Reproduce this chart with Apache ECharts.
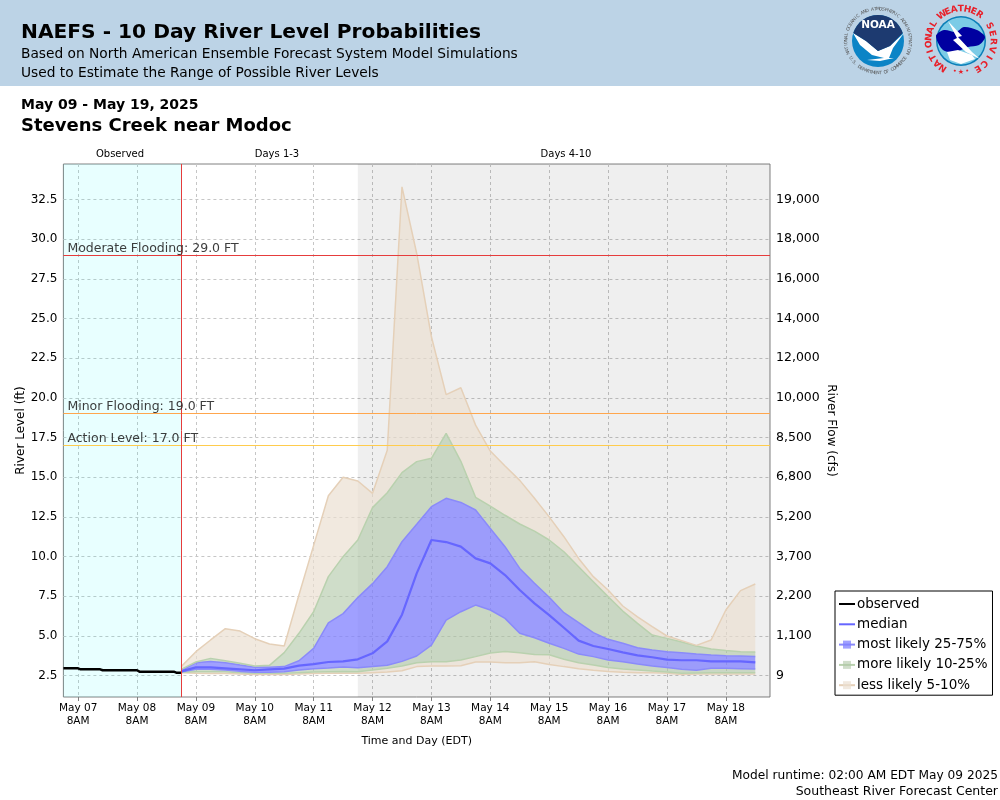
<!DOCTYPE html>
<html>
<head>
<meta charset="utf-8">
<title>NAEFS River Level Probabilities</title>
<script src="https://cdn.jsdelivr.net/npm/echarts@6/dist/echarts.min.js"></script>
<style>
  html, body { margin: 0; padding: 0; background: #fff; }
  #main { width: 1000px; height: 800px; }
</style>
</head>
<body>
<div id="main"></div>
<script>
// hours are counted from May 07 2AM EDT, the left edge of the plot
const xTickHours = [6, 30, 54, 78, 102, 126, 150, 174, 198, 222, 246, 270]
const xTickLabels = ['May 07\n8AM', 'May 08\n8AM', 'May 09\n8AM', 'May 10\n8AM', 'May 11\n8AM', 'May 12\n8AM',
  'May 13\n8AM', 'May 14\n8AM', 'May 15\n8AM', 'May 16\n8AM', 'May 17\n8AM', 'May 18\n8AM']
const levelTicks = [2.5, 5, 7.5, 10, 12.5, 15, 17.5, 20, 22.5, 25, 27.5, 30, 32.5]
const levelLabels = ['2.5', '5.0', '7.5', '10.0', '12.5', '15.0', '17.5', '20.0', '22.5', '25.0', '27.5', '30.0', '32.5']
const flowLabels = ['9', '1,100', '2,200', '3,700', '5,200', '6,800', '8,500', '10,000', '12,000', '14,000', '16,000', '18,000', '19,000']

const obsHours = [0, 6, 7, 15, 16, 30, 31, 45, 46, 48]
const observed = [2.95, 2.95, 2.89, 2.89, 2.83, 2.83, 2.74, 2.74, 2.68, 2.68]

const fcHours = [48, 54, 60, 66, 72, 78, 84, 90, 96, 102, 108, 114, 120, 126, 132, 138, 144, 150, 156, 162,
  168, 174, 180, 186, 192, 198, 204, 210, 216, 222, 228, 234, 240, 246, 252, 258, 264, 270, 276, 282]
const median = [2.76, 3.01, 3.01, 2.95, 2.89, 2.83, 2.89, 2.93, 3.12, 3.22, 3.35, 3.39, 3.52, 3.9, 4.65, 6.33, 8.94, 11.04, 10.91, 10.62,
  9.88, 9.57, 8.83, 7.89, 7.05, 6.31, 5.51, 4.7, 4.36, 4.17, 3.96, 3.77, 3.65, 3.5, 3.46, 3.46, 3.39, 3.39, 3.39, 3.33]
const p95 = [3.06, 4.0, 4.74, 5.45, 5.3, 4.82, 4.49, 4.36, 7.57, 10.7, 13.83, 15.0, 14.76, 13.98, 16.7, 33.3, 29.1, 23.85, 20.2, 20.64,
  18.28, 16.65, 15.7, 14.8, 13.67, 12.5, 11.25, 9.88, 8.73, 7.89, 6.88, 6.2, 5.58, 4.99, 4.7, 4.4, 4.74, 6.63, 7.85, 8.27]
const p90 = [2.89, 3.35, 3.58, 3.43, 3.27, 3.1, 3.14, 3.94, 5.16, 6.52, 8.73, 9.99, 11.04, 13.08, 14.02, 15.29, 15.98, 16.19, 17.76, 16.0,
  13.73, 13.18, 12.6, 12.05, 11.6, 11.04, 10.3, 9.36, 8.41, 7.47, 6.56, 5.79, 5.05, 4.84, 4.61, 4.36, 4.17, 4.07, 4.0, 3.98]
const p75 = [2.8, 3.31, 3.39, 3.31, 3.16, 3.02, 3.02, 3.06, 3.43, 4.21, 5.81, 6.4, 7.41, 8.29, 9.36, 10.93, 12.03, 13.14, 13.67, 13.41,
  12.93, 11.77, 10.62, 9.25, 8.31, 7.43, 6.46, 5.83, 5.2, 4.78, 4.53, 4.25, 4.11, 4.0, 3.94, 3.85, 3.79, 3.75, 3.73, 3.69]
const p25 = [2.72, 2.89, 2.89, 2.85, 2.76, 2.7, 2.7, 2.74, 2.85, 2.93, 2.97, 3.04, 2.99, 3.06, 3.14, 3.39, 3.73, 4.42, 5.99, 6.52,
  6.94, 6.63, 6.1, 5.16, 4.88, 4.53, 4.21, 3.85, 3.69, 3.48, 3.37, 3.22, 3.1, 3.0, 2.9, 2.83, 2.95, 2.95, 2.93, 2.91]
const p10 = [2.7, 2.74, 2.74, 2.74, 2.68, 2.64, 2.64, 2.64, 2.68, 2.72, 2.74, 2.76, 2.74, 2.85, 2.95, 3.1, 3.31, 3.37, 3.37, 3.48,
  3.69, 3.92, 4.02, 3.94, 3.83, 3.81, 3.52, 3.31, 3.16, 3.01, 2.91, 2.85, 2.78, 2.72, 2.64, 2.66, 2.68, 2.68, 2.68, 2.68]
const p5 = [2.68, 2.64, 2.62, 2.62, 2.59, 2.57, 2.57, 2.57, 2.59, 2.62, 2.64, 2.64, 2.64, 2.68, 2.72, 2.8, 3.06, 3.1, 3.1, 3.12,
  3.35, 3.35, 3.31, 3.31, 3.37, 3.2, 3.06, 2.93, 2.83, 2.76, 2.7, 2.68, 2.68, 2.64, 2.57, 2.59, 2.59, 2.59, 2.59, 2.59]

const TAN = 'rgba(235,223,209,0.69)', TAN_EDGE = '#e5d0b8'
const GREEN = 'rgba(177,200,168,0.62)', GREEN_EDGE = '#b9d1ae'
const BLUE = 'rgba(128,128,255,0.75)', BLUE_EDGE = '#8a8afa'
const CLEAR = 'rgba(0,0,0,0)'
const FONT = '"DejaVu Sans"'

// one category per hour across the 12 days on the axis
const hours = Array.from({ length: 289 }, (_, h) => String(h))
const isTick = index => xTickHours.includes(index)
const fcPairs = vals => vals.map((v, i) => [String(fcHours[i]), v])
const diff = (hi, lo) => hi.map((v, i) => +(v - lo[i]).toFixed(2))

function band(name, values, fill, edge) {
  return {
    name, type: 'line', stack: 'bands', data: fcPairs(values),
    symbol: 'rect', showSymbol: false, silent: true,
    lineStyle: { color: edge, width: 1.5 },
    itemStyle: { color: fill, borderColor: edge },
    areaStyle: { color: fill, opacity: 1 }
  }
}

// pieces of the two logos and the ring lettering
function ringText(text, cx, cy, r, fromDeg, toDeg, style, flip) {
  const n = text.length
  return text.split('').map((ch, i) => {
    const deg = fromDeg + (toDeg - fromDeg) * i / (n - 1)
    const a = deg * Math.PI / 180
    return {
      type: 'text', x: cx + r * Math.sin(a), y: cy - r * Math.cos(a),
      rotation: flip ? Math.PI - a : -a,
      style: { text: ch, align: 'center', verticalAlign: 'middle', ...style }
    }
  })
}
function arcPoints(cx, cy, r, fromDeg, toDeg, steps) {
  const pts = []
  for (let i = 0; i <= steps; i++) {
    const a = (fromDeg + (toDeg - fromDeg) * i / steps) * Math.PI / 180
    pts.push([cx + r * Math.sin(a), cy - r * Math.cos(a)])
  }
  return pts
}
const headText = (x, y, text, size, weight) => ({
  type: 'text', x, y,
  style: { text, font: `${weight || 'normal'} ${size}px ${FONT}`, fill: '#000', verticalAlign: 'middle' }
})
const topText = (x, text) => ({
  type: 'text', x, y: 154,
  style: { text, font: `10px ${FONT}`, fill: '#000', align: 'center', verticalAlign: 'middle' }
})

const NOAA_X = 878, NOAA_Y = 41, NWS_X = 961, NWS_Y = 41
const noaaLogo = [
  { type: 'circle', shape: { cx: NOAA_X, cy: NOAA_Y, r: 26 }, style: { fill: '#0b84c6' } },
  { type: 'polygon', shape: { points: [[853, 33], [866, 41], [878, 51], [890, 46], [904, 33], [893, 48], [889, 58], [894, 58], [880, 61], [867, 60], [884, 58], [872, 55], [860, 45]] }, style: { fill: '#fff' } },
  { type: 'polygon', shape: { points: [...arcPoints(NOAA_X, NOAA_Y, 26, -72, 72, 16), [890, 46], [878, 51], [866, 41]] }, style: { fill: '#1d3a70' } },
  { type: 'text', x: NOAA_X, y: 25, style: { text: 'NOAA', font: `bold 10.5px ${FONT}`, fill: '#fff', align: 'center', verticalAlign: 'middle' } },
  ...ringText('NATIONAL OCEANIC AND ATMOSPHERIC ADMINISTRATION', NOAA_X, NOAA_Y, 32, -112, 112, { font: `4.5px ${FONT}`, fill: '#555' }),
  ...ringText('U.S. DEPARTMENT OF COMMERCE', NOAA_X, NOAA_Y, 32, 238, 122, { font: `4.5px ${FONT}`, fill: '#555' }, true)
]
const nwsLogo = [
  { type: 'circle', shape: { cx: NWS_X, cy: NWS_Y, r: 25 }, style: { fill: '#0a7fb8' } },
  { type: 'circle', shape: { cx: NWS_X, cy: NWS_Y, r: 23.5 }, style: { fill: '#7ccbe6' } },
  { type: 'polygon', shape: { smooth: 0.3, points: [[936, 36], [944, 30], [956, 32], [964, 27], [977, 30], [985, 37], [979, 45], [968, 47], [955, 52], [943, 50]] }, style: { fill: '#0000a0' } },
  { type: 'polygon', shape: { points: [[947, 52], [958, 50], [972, 55], [975, 59], [961, 64], [950, 60]] }, style: { fill: '#fff' } },
  { type: 'polygon', shape: { points: [[948, 21], [962, 36], [958, 37], [972, 52], [980, 59], [966, 52], [953, 40], [957, 38]] }, style: { fill: '#fff' } },
  ...ringText('NATIONAL', NWS_X, NWS_Y, 32, -146, -58, { font: `bold 9px ${FONT}`, fill: '#e8202a' }),
  ...ringText('WEATHER', NWS_X, NWS_Y, 32, -36, 35, { font: `bold 9px ${FONT}`, fill: '#e8202a' }),
  ...ringText('SERVICE', NWS_X, NWS_Y, 32, 62, 149, { font: `bold 9px ${FONT}`, fill: '#e8202a' }),
  ...ringText('•★•', NWS_X, NWS_Y, 31, 192, 168, { font: `7px ${FONT}`, fill: '#e8202a' }, true)
]

const myChart = echarts.init(document.getElementById('main'))

myChart.setOption({
  animation: false,
  backgroundColor: '#fff',
  textStyle: { fontFamily: 'DejaVu Sans' },
  grid: { left: 63.4, right: 230, top: 164, bottom: 103, outerBoundsMode: 'none', show: true, borderColor: '#808080', borderWidth: 1, backgroundColor: 'transparent' },
  xAxis: {
    type: 'category', data: hours, boundaryGap: false,
    name: 'Time and Day (EDT)', nameLocation: 'middle', nameGap: 39, nameMoveOverlap: false,
    nameTextStyle: { fontSize: 11, color: '#000' },
    axisLine: { show: false },
    axisTick: { interval: isTick, length: 4, lineStyle: { color: '#808080' } },
    axisLabel: {
      interval: isTick, fontSize: 10.5, color: '#000', margin: 5, lineHeight: 13,
      formatter: (v, i) => xTickLabels[xTickHours.indexOf(i)]
    },
    splitLine: { show: true, interval: isTick, lineStyle: { color: '#c6c6c6', type: [3, 3], width: 1 } }
  },
  yAxis: [{
    type: 'value', min: 1.145, max: 34.74, position: 'left',
    name: 'River Level (ft)', nameLocation: 'middle', nameGap: 37, nameMoveOverlap: false,
    nameTextStyle: { fontSize: 12, color: '#000' },
    axisLine: { show: false },
    axisTick: { customValues: levelTicks, length: 4, lineStyle: { color: '#808080' } },
    axisLabel: {
      customValues: levelTicks, fontSize: 12, color: '#000', margin: 6,
      formatter: v => levelLabels[levelTicks.indexOf(v)]
    },
    splitLine: { show: true, lineStyle: { color: '#c6c6c6', type: [3, 3], width: 1 } }
  }, {
    type: 'value', min: 1.145, max: 34.74, position: 'right',
    name: 'River Flow (cfs)', nameLocation: 'middle', nameGap: 55, nameRotate: -90, nameMoveOverlap: false,
    nameTextStyle: { fontSize: 12, color: '#000' },
    axisLine: { show: false },
    axisTick: { customValues: levelTicks, length: 4, lineStyle: { color: '#808080' } },
    axisLabel: {
      customValues: levelTicks, fontSize: 12.5, color: '#000', margin: 6,
      formatter: v => flowLabels[levelTicks.indexOf(v)]
    },
    splitLine: { show: false }
  }],
  legend: {
    left: 835, top: 591, orient: 'vertical', align: 'left',
    backgroundColor: '#fff', borderColor: '#000', borderWidth: 1, borderRadius: 0,
    padding: [6, 5, 3, 3], itemWidth: 16, itemHeight: 10, itemGap: 6.3,
    textStyle: { fontSize: 13.5, color: '#000', padding: [0, 0, 0, -3] },
    data: [
      { name: 'observed', itemStyle: { color: CLEAR, borderColor: CLEAR, borderWidth: 0 } },
      { name: 'median', itemStyle: { color: CLEAR, borderColor: CLEAR, borderWidth: 0 } },
      { name: 'most likely 25-75%' },
      { name: 'more likely 10-25%', lineStyle: { color: GREEN_EDGE }, itemStyle: { color: GREEN, borderColor: GREEN_EDGE } },
      { name: 'less likely 5-10%', lineStyle: { color: TAN_EDGE }, itemStyle: { color: TAN, borderColor: TAN_EDGE } }
    ]
  },
  series: [
    {
      name: 'lowest', type: 'line', stack: 'bands', data: fcPairs(p5), showSymbol: false, silent: true,
      lineStyle: { color: TAN_EDGE, width: 1.5 },
      markArea: {
        silent: true,
        data: [
          [{ xAxis: hours[0], itemStyle: { color: 'rgba(0,255,255,0.09)' } }, { xAxis: hours[48] }],
          [{ xAxis: hours[120], itemStyle: { color: 'rgba(0,0,0,0.063)' } }, { xAxis: hours[288] }]
        ]
      }
    },
    band('less likely 5-10%', diff(p10, p5), TAN, GREEN_EDGE),
    band('more likely 10-25%', diff(p25, p10), GREEN, BLUE_EDGE),
    band('most likely 25-75%', diff(p75, p25), BLUE, BLUE_EDGE),
    band('more likely 10-25%', diff(p90, p75), GREEN, GREEN_EDGE),
    band('less likely 5-10%', diff(p95, p90), TAN, TAN_EDGE),
    {
      name: 'median', type: 'line', data: fcPairs(median), symbol: 'none', silent: true,
      lineStyle: { color: '#6666ff', width: 2.2 }, itemStyle: { color: '#6666ff' }
    },
    {
      name: 'observed', type: 'line', data: obsHours.map((h, i) => [String(h), observed[i]]), symbol: 'none', silent: true,
      lineStyle: { color: '#000', width: 2.5 }, itemStyle: { color: '#000' },
      markLine: {
        silent: true, symbol: 'none',
        label: { position: 'insideStartTop', distance: 0, padding: [0, 0, 0, 4], fontSize: 12.5, color: 'rgba(40,40,40,0.9)', formatter: '{b}' },
        data: [
          { name: 'Moderate Flooding: 29.0 FT', yAxis: 29, lineStyle: { color: '#e63c3c', type: 'solid', width: 1 } },
          { name: 'Minor Flooding: 19.0 FT', yAxis: 19, lineStyle: { color: '#ffa64d', type: 'solid', width: 1 } },
          { name: 'Action Level: 17.0 FT', yAxis: 17, lineStyle: { color: '#ffcc4d', type: 'solid', width: 1 } },
          { name: '', xAxis: hours[48], label: { show: false }, lineStyle: { color: '#e63c3c', type: 'solid', width: 1 } }
        ]
      }
    }
  ],
  graphic: [
    { type: 'rect', shape: { x: 0, y: 0, width: 1000, height: 86 }, style: { fill: '#bcd3e6' } },
    headText(21, 33, 'NAEFS - 10 Day River Level Probabilities', 20.2, 'bold'),
    headText(21, 54, 'Based on North American Ensemble Forecast System Model Simulations', 13.75),
    headText(21, 73, 'Used to Estimate the Range of Possible River Levels', 13.75),
    headText(21, 105, 'May 09 - May 19, 2025', 14, 'bold'),
    headText(21, 126, 'Stevens Creek near Modoc', 18, 'bold'),
    topText(120, 'Observed'),
    topText(277, 'Days 1-3'),
    topText(566, 'Days 4-10'),
    { type: 'text', x: 998, y: 776, style: { text: 'Model runtime: 02:00 AM EDT May 09 2025', font: `12.2px ${FONT}`, fill: '#000', align: 'right', verticalAlign: 'middle' } },
    { type: 'text', x: 998, y: 792, style: { text: 'Southeast River Forecast Center', font: `12.5px ${FONT}`, fill: '#000', align: 'right', verticalAlign: 'middle' } },
    ...noaaLogo,
    ...nwsLogo
  ]
})
</script>
</body>
</html>
